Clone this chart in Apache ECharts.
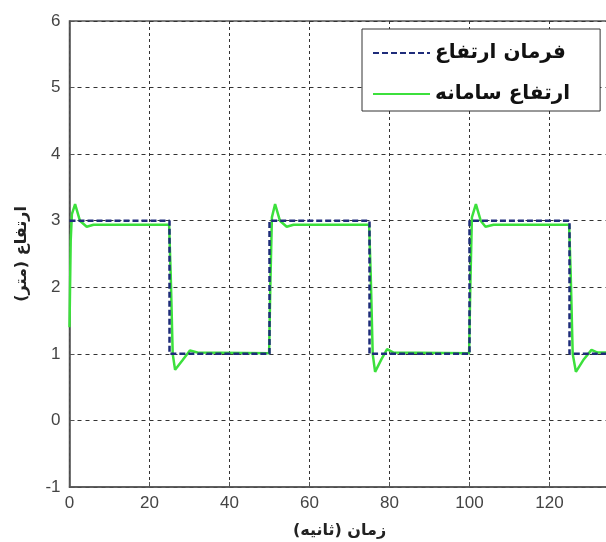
<!DOCTYPE html>
<html>
<head>
<meta charset="utf-8">
<script src="https://cdn.jsdelivr.net/npm/echarts@6/dist/echarts.min.js"></script>
<style>
  html, body { margin: 0; padding: 0; background: #fff; }
  #chart { width: 606px; height: 542px; }
</style>
</head>
<body>
<div id="chart"></div>
<script>
// Altitude command (square wave) and the system's measured altitude
const commandTime  = [0, 25, 25, 50, 50, 75, 75, 100, 100, 125, 125, 135];
const commandValue = [3, 3, 1, 1, 3, 3, 1, 1, 3, 3, 1, 1];

const responseTime = [
  0, 0.3, 0.6, 1.4, 2.6, 4.3, 6, 24.9, 25.3, 25.8, 26.4, 28.2, 30.1, 32,
  49.9, 50.2, 50.6, 51.4, 52.6, 54.3, 56, 74.9, 75.3, 75.8, 76.4, 78, 79.4, 81,
  99.9, 100.2, 100.6, 101.6, 102.8, 104, 106, 124.9, 125.3, 125.8, 126.6, 128.6, 130.5, 132, 135
];
const responseValue = [
  1.4, 2.7, 3.1, 3.25, 3.0, 2.91, 2.94, 2.94, 2.2, 1.0, 0.76, 0.9, 1.05, 1.02,
  1.01, 2.0, 3.05, 3.25, 3.0, 2.91, 2.94, 2.94, 2.2, 1.0, 0.73, 0.92, 1.07, 1.02,
  1.01, 2.0, 3.05, 3.25, 3.0, 2.91, 2.94, 2.94, 2.2, 1.0, 0.73, 0.92, 1.06, 1.02, 1.02
];

const yTicks = { min: -1, max: 6, step: 1 };
const xTicks = { min: 0, max: 135, step: 20 };

const seriesNames = ['فرمان ارتفاع', 'ارتفاع سامانه'];
const xAxisTitle = 'زمان (ثانیه)';
const yAxisTitle = 'ارتفاع (متر)';

const zip = (xs, ys) => xs.map((x, i) => [x, ys[i]]);

const chart = echarts.init(document.getElementById('chart'), null, { renderer: 'canvas' });

const gridStyle = { type: [3, 3], color: '#333', width: 1 };
const labelFont = 'Liberation Sans, Arial, sans-serif';
const persianFont = 'DejaVu Sans, Noto Sans, sans-serif';

chart.setOption({
  animation: false,
  backgroundColor: '#fff',
  grid: {
    left: 69.5, top: 21, width: 540, height: 466,
    outerBoundsMode: 'none',
    containLabel: false,
    show: true, borderColor: '#555', borderWidth: 1.5, backgroundColor: '#fff'
  },
  xAxis: {
    type: 'value',
    min: xTicks.min, max: xTicks.max, interval: xTicks.step,
    name: xAxisTitle, nameLocation: 'middle', nameGap: 36,
    nameTextStyle: { fontFamily: persianFont, fontSize: 16, fontWeight: 'bold', color: '#222' },
    axisLine: { show: true, onZero: false, lineStyle: { color: '#555', width: 1.5 } },
    axisTick: { show: true, inside: true, length: 5, lineStyle: { color: '#555' } },
    axisLabel: {
      color: '#444', fontSize: 17, fontFamily: labelFont, margin: 8,
      formatter: v => (v % xTicks.step === 0 ? String(v) : '')
    },
    splitLine: { show: true, lineStyle: gridStyle }
  },
  yAxis: {
    type: 'value',
    min: yTicks.min, max: yTicks.max, interval: yTicks.step,
    name: yAxisTitle, nameLocation: 'middle', nameGap: 40,
    nameTextStyle: { fontFamily: persianFont, fontSize: 16, fontWeight: 'bold', color: '#222' },
    axisLine: { show: true, onZero: false, lineStyle: { color: '#555', width: 1.5 } },
    axisTick: { show: true, inside: true, length: 5, lineStyle: { color: '#555' } },
    axisLabel: { color: '#444', fontSize: 17, fontFamily: labelFont, margin: 9 },
    splitLine: { show: true, lineStyle: { type: [4, 4], color: '#333', width: 1 } }
  },
  legend: {
    orient: 'vertical',
    left: 362, top: 29,
    padding: [14, 30, 7, 10],
    itemGap: 21,
    itemWidth: 57, itemHeight: 14,
    itemStyle: { opacity: 0 },
    backgroundColor: '#fff',
    borderColor: '#333', borderWidth: 1, borderRadius: 0,
    textStyle: { fontFamily: persianFont, fontSize: 20, fontWeight: 'bold', color: '#111' },
    data: seriesNames
  },
  series: [
    {
      name: seriesNames[0],
      type: 'line',
      data: zip(commandTime, commandValue),
      showSymbol: false, symbol: 'none',
      lineStyle: { color: '#1f2c7a', width: 2.5, type: [6, 3] },
      itemStyle: { color: '#1f2c7a' },
      z: 3
    },
    {
      name: seriesNames[1],
      type: 'line',
      data: zip(responseTime, responseValue),
      showSymbol: false, symbol: 'none',
      lineStyle: { color: '#3ce03c', width: 2.5 },
      itemStyle: { color: '#3ce03c' },
      z: 2
    }
  ]
});
</script>
</body>
</html>
